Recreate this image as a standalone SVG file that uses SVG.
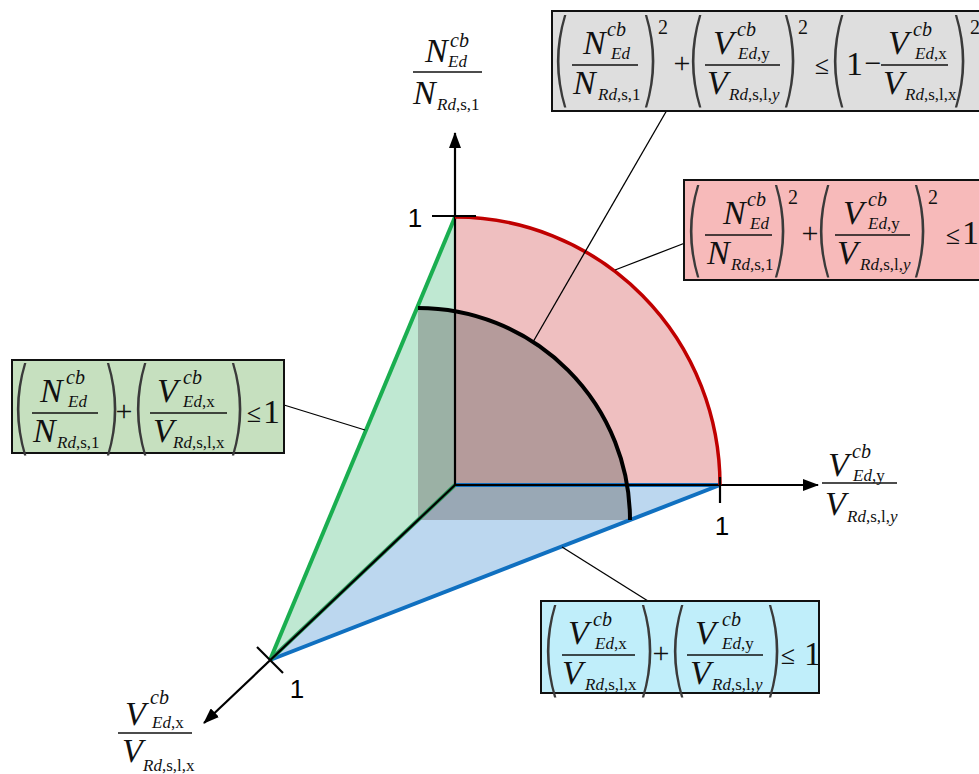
<svg xmlns="http://www.w3.org/2000/svg" width="979" height="774" viewBox="0 0 979 774">
<defs>
<style>
.m{font-family:"Liberation Serif","Times New Roman",serif;font-style:italic;font-size:34px;fill:#111}
.s{font-family:"Liberation Serif","Times New Roman",serif;font-style:italic;font-size:17px;fill:#111}
.p{font-family:"Liberation Serif","Times New Roman",serif;font-style:italic;font-size:20px;fill:#111}
.u{font-style:normal}
.r{font-family:"Liberation Serif","Times New Roman",serif;font-size:34px;fill:#111}
.op{font-family:"Liberation Serif","Times New Roman",serif;font-size:30px;fill:#111;text-anchor:middle}
.le{font-size:26px}
.q{font-family:"Liberation Serif","Times New Roman",serif;font-size:20px;fill:#111}
.pr{font-family:"DejaVu Sans","Noto Sans",sans-serif;font-weight:200;font-size:103px;fill:#3a3a3a}
.one{font-family:"Liberation Sans",Arial,sans-serif;font-size:26px;fill:#000;text-anchor:middle}
.bar{stroke:#111;stroke-width:1.5}
.lead{stroke:#000;stroke-width:1.3;fill:none}
.box{stroke:#111;stroke-width:2}
</style>
<marker id="ah" markerWidth="16" markerHeight="12" refX="15" refY="6" orient="auto" markerUnits="userSpaceOnUse">
<path d="M0,0 L16,6 L0,12 Z" fill="#000"/>
</marker>
</defs>
<rect width="979" height="774" fill="#fff"/>

<g id="surfaces">
<polygon points="455,217 455,485 270,660" fill="#bfe8d2"/>
<polygon points="455,485 720,485 270,660" fill="#bcd7ef"/>
<path d="M455,485 L455,217 A265,268 0 0 1 720,485 Z" fill="#efbfc0"/>
<path d="M418,520 L418,308 A212,212 0 0 1 630,520 Z" fill="#6e6e6e" fill-opacity="0.45"/>
</g>

<g id="connectors">
<line x1="455" y1="217" x2="270" y2="660" stroke="#1aae50" stroke-width="4"/>
<line x1="720" y1="485" x2="270" y2="660" stroke="#1070c0" stroke-width="4"/>
<line x1="455" y1="485" x2="720" y2="485" stroke="#1070c0" stroke-width="4"/>
<line x1="455" y1="485" x2="270" y2="660" stroke="#2a9a5a" stroke-width="4"/>
<line x1="455" y1="485" x2="204" y2="723" stroke="#000" stroke-width="2.2" marker-end="url(#ah)"/>
<line x1="455" y1="485" x2="455" y2="133" stroke="#000" stroke-width="2.2" marker-end="url(#ah)"/>
<line x1="455" y1="485" x2="818" y2="485" stroke="#000" stroke-width="2.2" marker-end="url(#ah)"/>
<path d="M455,217 A265,268 0 0 1 720,485" fill="none" stroke="#c00000" stroke-width="3.5"/>
<path d="M418,308 A212,212 0 0 1 630,520" fill="none" stroke="#000" stroke-width="4"/>
<line x1="432" y1="216" x2="476" y2="216" stroke="#000" stroke-width="2.2"/>
<line x1="720" y1="477" x2="720" y2="503" stroke="#000" stroke-width="2.2"/>
<line x1="257" y1="647" x2="283" y2="673" stroke="#000" stroke-width="2.2"/>
<line class="lead" x1="533" y1="342" x2="667" y2="110"/>
<line class="lead" x1="615" y1="270" x2="685" y2="243"/>
<line class="lead" x1="284" y1="405" x2="365" y2="430"/>
<line class="lead" x1="562" y1="547" x2="648" y2="601"/>
</g>

<g id="ticklabels">
<text class="one" x="415" y="227">1</text>
<text class="one" x="722" y="535">1</text>
<text class="one" x="297" y="698">1</text>
</g>

<g id="axis-N">
<line class="bar" x1="413" y1="72" x2="482" y2="72"/>
<text class="m" x="425" y="62">N</text>
<text class="p" x="450" y="47">cb</text>
<text class="s" x="448" y="67">Ed</text>
<text class="m" x="413" y="104">N</text>
<text class="s" x="437" y="110">Rd<tspan class="u">,s,1</tspan></text>
</g>

<g id="axis-Vy">
<line class="bar" x1="822" y1="483" x2="897" y2="483"/>
<text class="m" x="828" y="476">V</text>
<text class="p" x="852" y="458">cb</text>
<text class="s" x="853" y="481">Ed<tspan class="u">,y</tspan></text>
<text class="m" x="825" y="515">V</text>
<text class="s" x="847" y="522">Rd<tspan class="u">,s,l,</tspan>y</text>
</g>

<g id="axis-Vx">
<line class="bar" x1="118" y1="733" x2="192" y2="733"/>
<text class="m" x="125" y="725">V</text>
<text class="p" x="150" y="704">cb</text>
<text class="s" x="152" y="728">Ed<tspan class="u">,x</tspan></text>
<text class="m" x="122" y="762">V</text>
<text class="s" x="143" y="771">Rd<tspan class="u">,s,l,x</tspan></text>
</g>

<g id="box-cone">
<rect class="box" x="552" y="11" width="432" height="100" fill="#dedede"/>
<text class="pr" transform="translate(551,93.5) scale(0.52,1)">(</text>
<line class="bar" x1="572" y1="65" x2="638" y2="65"/>
<text class="m" x="583" y="54">N</text>
<text class="p" x="607" y="36">cb</text>
<text class="s" x="611" y="59">Ed</text>
<text class="m" x="573" y="94">N</text>
<text class="s" x="598" y="100">Rd<tspan class="u">,s,1</tspan></text>
<text class="pr" transform="translate(639,93.5) scale(0.52,1)">)</text>
<text class="q" x="658" y="34">2</text>
<text class="op" x="682" y="73">+</text>
<text class="pr" transform="translate(686,93.5) scale(0.52,1)">(</text>
<line class="bar" x1="705" y1="65" x2="780" y2="65"/>
<text class="m" x="713" y="54">V</text>
<text class="p" x="737" y="36">cb</text>
<text class="s" x="738" y="59">Ed<tspan class="u">,y</tspan></text>
<text class="m" x="707" y="94">V</text>
<text class="s" x="729" y="100">Rd<tspan class="u">,s,l,</tspan>y</text>
<text class="pr" transform="translate(779,93.5) scale(0.52,1)">)</text>
<text class="q" x="798" y="34">2</text>
<text class="op le" x="822" y="74">≤</text>
<text class="pr" transform="translate(828,93.5) scale(0.52,1)">(</text>
<text class="r" x="846" y="75">1</text>
<text class="op" x="873" y="73">−</text>
<line class="bar" x1="881" y1="65" x2="948" y2="65"/>
<text class="m" x="888" y="54">V</text>
<text class="p" x="913" y="36">cb</text>
<text class="s" x="915" y="59">Ed<tspan class="u">,x</tspan></text>
<text class="m" x="883" y="94">V</text>
<text class="s" x="905" y="100">Rd<tspan class="u">,s,l,x</tspan></text>
<text class="pr" transform="translate(949,93.5) scale(0.52,1)">)</text>
<text class="q" x="970" y="34">2</text>
</g>

<g id="box-red">
<rect class="box" x="684" y="180" width="300" height="100" fill="#f7baba"/>
<text class="pr" transform="translate(684,263.5) scale(0.52,1)">(</text>
<line class="bar" x1="705" y1="235" x2="772" y2="235"/>
<text class="m" x="723" y="224">N</text>
<text class="p" x="747" y="206">cb</text>
<text class="s" x="750" y="229">Ed</text>
<text class="m" x="707" y="264">N</text>
<text class="s" x="731" y="270">Rd<tspan class="u">,s,1</tspan></text>
<text class="pr" transform="translate(769,263.5) scale(0.52,1)">)</text>
<text class="q" x="788" y="204">2</text>
<text class="op" x="810" y="243">+</text>
<text class="pr" transform="translate(814,263.5) scale(0.52,1)">(</text>
<line class="bar" x1="835" y1="235" x2="910" y2="235"/>
<text class="m" x="843" y="224">V</text>
<text class="p" x="868" y="206">cb</text>
<text class="s" x="868" y="229">Ed<tspan class="u">,y</tspan></text>
<text class="m" x="837" y="264">V</text>
<text class="s" x="860" y="270">Rd<tspan class="u">,s,l,</tspan>y</text>
<text class="pr" transform="translate(909,263.5) scale(0.52,1)">)</text>
<text class="q" x="928" y="204">2</text>
<text class="op le" x="953" y="244">≤</text>
<text class="r" x="962" y="244">1</text>
</g>

<g id="box-green">
<rect class="box" x="12" y="360" width="272" height="93" fill="#c6e0bf"/>
<text class="pr" transform="translate(11,441.5) scale(0.52,1)">(</text>
<line class="bar" x1="32" y1="413" x2="98" y2="413"/>
<text class="m" x="40" y="402">N</text>
<text class="p" x="66" y="384">cb</text>
<text class="s" x="68" y="407">Ed</text>
<text class="m" x="33" y="442">N</text>
<text class="s" x="57" y="448">Rd<tspan class="u">,s,1</tspan></text>
<text class="pr" transform="translate(101,441.5) scale(0.52,1)">)</text>
<text class="op" x="124" y="421">+</text>
<text class="pr" transform="translate(131,441.5) scale(0.52,1)">(</text>
<line class="bar" x1="150" y1="413" x2="227" y2="413"/>
<text class="m" x="157" y="402">V</text>
<text class="p" x="183" y="384">cb</text>
<text class="s" x="183" y="407">Ed<tspan class="u">,x</tspan></text>
<text class="m" x="153" y="442">V</text>
<text class="s" x="173" y="448">Rd<tspan class="u">,s,l,x</tspan></text>
<text class="pr" transform="translate(226,441.5) scale(0.52,1)">)</text>
<text class="op le" x="254" y="422">≤</text>
<text class="r" x="263" y="423">1</text>
</g>

<g id="box-blue">
<rect class="box" x="541" y="601" width="278" height="92" fill="#c0eefa"/>
<text class="pr" transform="translate(541,683.5) scale(0.52,1)">(</text>
<line class="bar" x1="562" y1="655" x2="635" y2="655"/>
<text class="m" x="568" y="644">V</text>
<text class="p" x="593" y="626">cb</text>
<text class="s" x="595" y="649">Ed<tspan class="u">,x</tspan></text>
<text class="m" x="562" y="684">V</text>
<text class="s" x="585" y="690">Rd<tspan class="u">,s,l,x</tspan></text>
<text class="pr" transform="translate(636,683.5) scale(0.52,1)">)</text>
<text class="op" x="661" y="663">+</text>
<text class="pr" transform="translate(668,683.5) scale(0.52,1)">(</text>
<line class="bar" x1="687" y1="655" x2="763" y2="655"/>
<text class="m" x="695" y="644">V</text>
<text class="p" x="722" y="626">cb</text>
<text class="s" x="722" y="649">Ed<tspan class="u">,y</tspan></text>
<text class="m" x="690" y="684">V</text>
<text class="s" x="712" y="690">Rd<tspan class="u">,s,l,</tspan>y</text>
<text class="pr" transform="translate(763,683.5) scale(0.52,1)">)</text>
<text class="op le" x="788" y="664">≤</text>
<text class="r" x="804" y="665">1</text>
</g>
</svg>
